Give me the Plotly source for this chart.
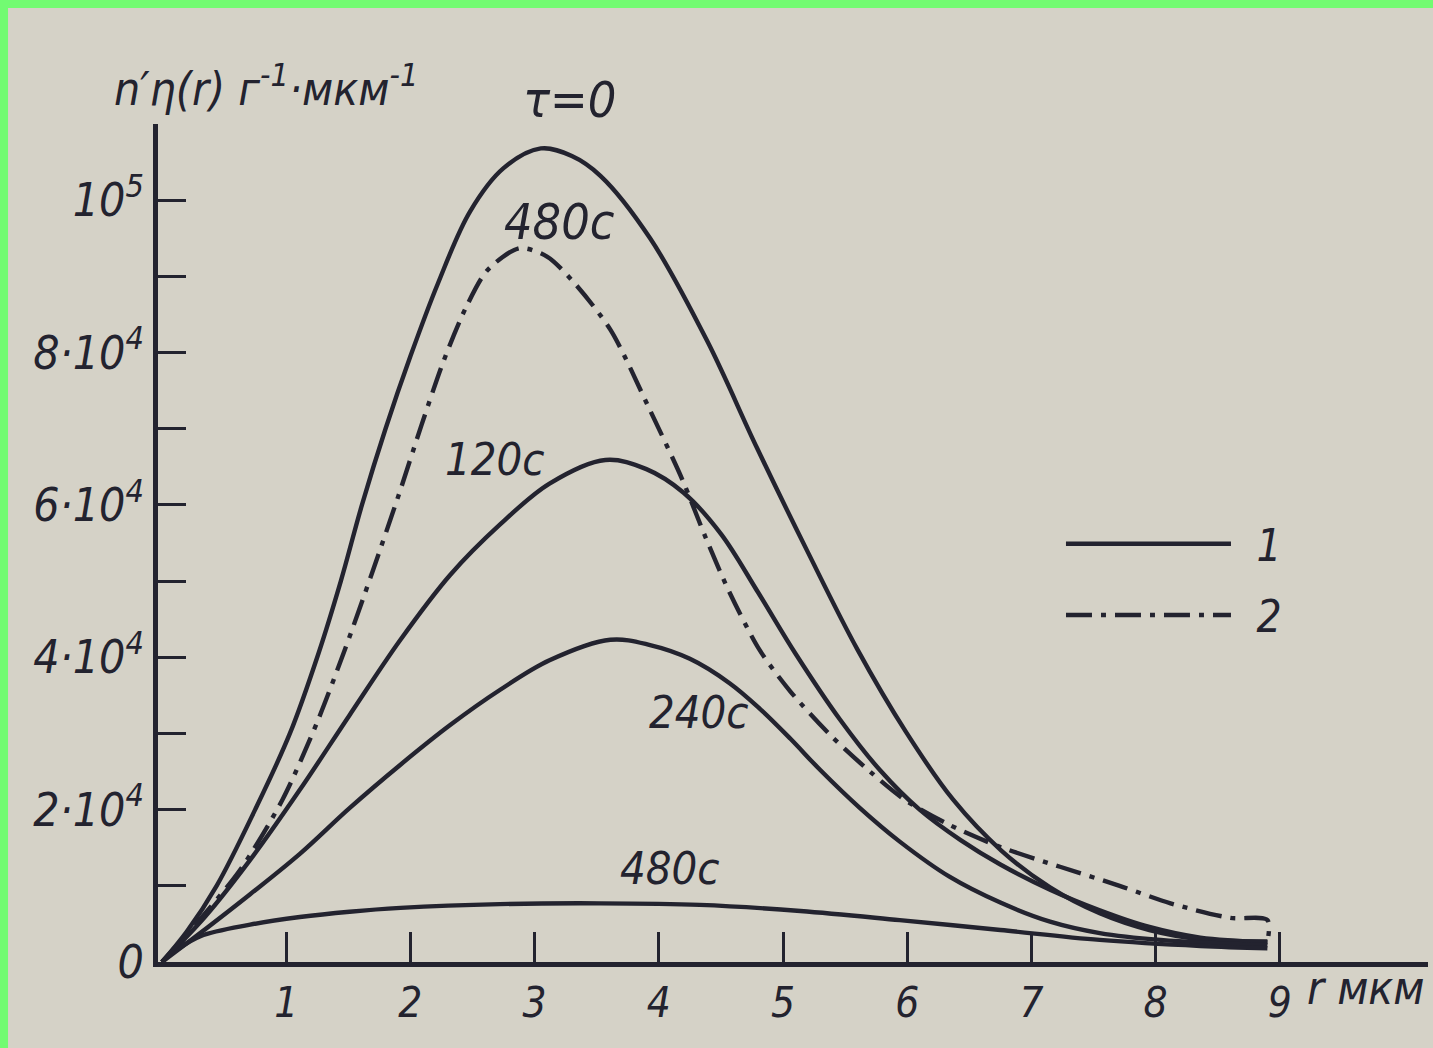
import plotly.graph_objects as go

# ---- data (r in мкм, value in г^-1·мкм^-1) ----
r_t0 = [0, 0.2, 0.44, 0.75, 1.03, 1.26, 1.44, 1.61, 1.8, 2.0, 2.22, 2.48, 2.75, 3.05, 3.3, 3.53, 3.93, 4.39, 4.79, 5.2, 5.6, 5.99, 6.37, 6.76, 7.15, 7.55, 7.95, 8.36, 8.9]
v_t0 = [0, 4000, 10000, 20000, 30000, 40500, 50000, 60000, 70000, 79500, 89000, 98500, 104200, 106800, 105800, 103200, 95000, 81500, 67500, 53800, 41000, 30200, 21300, 14600, 9800, 6400, 4200, 3000, 2700]

r_480_dd = [0, 0.3, 0.63, 0.97, 1.25, 1.47, 1.69, 1.91, 2.09, 2.27, 2.45, 2.62, 2.88, 3.1, 3.3, 3.61, 3.93, 4.19, 4.37, 4.57, 4.81, 5.06, 5.38, 5.7, 5.98, 6.34, 6.75, 7.23, 7.71, 8.12, 8.6, 8.9, 8.9]
v_480_dd = [0, 5500, 12100, 21300, 31500, 40900, 51000, 61500, 70500, 79000, 86000, 90800, 93700, 92600, 89500, 83000, 72400, 63300, 56000, 48500, 41000, 35500, 29800, 25000, 21300, 18000, 15100, 12500, 10000, 7700, 5800, 5500, 2600]

r_120 = [0, 0.35, 0.71, 1.11, 1.51, 1.92, 2.32, 2.72, 3.12, 3.57, 3.9, 4.2, 4.5, 4.8, 5.1, 5.46, 5.78, 6.1, 6.43, 6.75, 7.15, 7.55, 7.95, 8.36, 8.9]
v_120 = [0, 6000, 13400, 22600, 32400, 42300, 50800, 57400, 62800, 65900, 64700, 61600, 56200, 48500, 40500, 31800, 25200, 20000, 16000, 12800, 9500, 6800, 4600, 3200, 2600]

r_240 = [0, 0.3, 0.71, 1.11, 1.51, 1.92, 2.32, 2.72, 3.12, 3.61, 3.93, 4.25, 4.57, 4.81, 5.06, 5.3, 5.62, 5.94, 6.34, 6.75, 7.15, 7.55, 8.04, 8.9]
v_240 = [0, 3700, 8900, 14200, 20200, 25900, 31100, 35700, 39600, 42300, 41600, 39800, 36600, 33300, 29300, 25200, 20200, 15800, 11200, 7800, 5300, 3800, 2900, 2200]

r_480 = [0, 0.12, 0.31, 0.71, 1.11, 1.51, 1.92, 2.72, 3.53, 4.33, 5.14, 5.94, 6.75, 7.55, 8.36, 8.9]
v_480 = [0, 1600, 3400, 4900, 5900, 6600, 7100, 7600, 7700, 7500, 6700, 5500, 4200, 2900, 2100, 1800]

x_tick_vals = [1, 2, 3, 4, 5, 6, 7, 8, 9]
x_tick_text = ["1", "2", "3", "4", "5", "6", "7", "8", "9"]
y_tick_vals = [0, 10000, 20000, 30000, 40000, 50000, 60000, 70000, 80000, 90000, 100000, 110000]
y_tick_text = ["0", "", "2·10<sup>4</sup>", "", "4·10<sup>4</sup>", "", "6·10<sup>4</sup>", "",
               "8·10<sup>4</sup>", "", "10<sup>5</sup>", ""]

# (text, r, value, font size)
curve_labels = [("480с", 3.2, 97200, 50), ("120с", 2.68, 66000, 45),
                ("240с", 4.32, 32800, 45), ("480с", 4.09, 12300, 45)]
top_label = ("τ=0", 3.28)
legend_names = ["\u00a0\u20091", "\u00a0\u20092"]

INK = "#23232f"
PAPER = "#d5d2c7"
GREEN = "#72fb72"
FONT = "DejaVu Sans Condensed, Liberation Sans Narrow, sans-serif"

fig = go.Figure()
solid = dict(color=INK, width=4.4, shape="spline", smoothing=1.0)
fig.add_trace(go.Scatter(x=r_t0, y=v_t0, mode="lines", line=solid, name=legend_names[0],
                         legendgroup="a", showlegend=True))
fig.add_trace(go.Scatter(x=r_120, y=v_120, mode="lines", line=solid, showlegend=False))
fig.add_trace(go.Scatter(x=r_240, y=v_240, mode="lines", line=solid, showlegend=False))
fig.add_trace(go.Scatter(x=r_480, y=v_480, mode="lines", line=solid, showlegend=False))
fig.add_trace(go.Scatter(x=r_480_dd, y=v_480_dd, mode="lines", name=legend_names[1],
                         legendgroup="b", showlegend=True,
                         line=dict(color=INK, width=4.4, dash="26px,9px,5px,9px",
                                   shape="spline", smoothing=0.8)))

for txt, xr, yv, fs in curve_labels:
    fig.add_annotation(x=xr, y=yv, text=txt, showarrow=False, xanchor="center",
                       yanchor="middle", font=dict(family=FONT, size=fs, color=INK, style="italic"))
fig.add_annotation(x=top_label[1], yref="paper", y=1.029, text=top_label[0], showarrow=False,
                   xanchor="center", yanchor="middle",
                   font=dict(family=FONT, size=50, color=INK, style="italic"))

fig.add_annotation(xref="paper", yref="paper", x=0.085, y=1.045, xanchor="center", yanchor="middle",
                   text="n′η(r) г<sup>-1</sup>·мкм<sup>-1</sup>", showarrow=False,
                   font=dict(family=FONT, size=46, color=INK, style="italic"))
fig.add_annotation(xref="paper", yref="paper", x=0.951, y=-0.031, xanchor="center", yanchor="middle",
                   text="r мкм", showarrow=False,
                   font=dict(family=FONT, size=46, color=INK, style="italic"))

# scan paper inside green border
fig.add_shape(type="rect", xref="paper", yref="paper", x0=-0.1181, x1=1.05, y0=-0.15, y1=1.1384,
              fillcolor=PAPER, line=dict(width=0), layer="below")

fig.update_layout(
    width=1433, height=1048, autosize=False,
    margin=dict(l=158, r=5, t=124, b=86),
    paper_bgcolor=GREEN, plot_bgcolor="rgba(0,0,0,0)",
    showlegend=True,
    legend=dict(x=0.711, y=0.541, xanchor="left", yanchor="top", bgcolor="rgba(0,0,0,0)",
                itemwidth=165, tracegroupgap=11, traceorder="grouped",
                font=dict(family=FONT, size=44, color=INK, style="italic")),
    xaxis=dict(range=[-0.032, 10.193], showgrid=False, zeroline=False,
               showline=True, linecolor=INK, linewidth=5,
               ticks="inside", ticklen=30, tickwidth=3, tickcolor=INK,
               tickvals=x_tick_vals, ticktext=x_tick_text, ticklabelstandoff=0,
               tickfont=dict(family=FONT, size=42, color=INK, style="italic")),
    yaxis=dict(range=[0, 110000], showgrid=False, zeroline=False,
               showline=True, linecolor=INK, linewidth=5,
               ticks="inside", ticklen=28, tickwidth=3, tickcolor=INK,
               tickvals=y_tick_vals, ticktext=y_tick_text, ticklabelstandoff=0,
               tickfont=dict(family=FONT, size=46, color=INK, style="italic")),
)

fig.write_html("out.html", config={"displayModeBar": False},
               post_script="document.body.style.margin='0';document.body.style.overflow='hidden';")
